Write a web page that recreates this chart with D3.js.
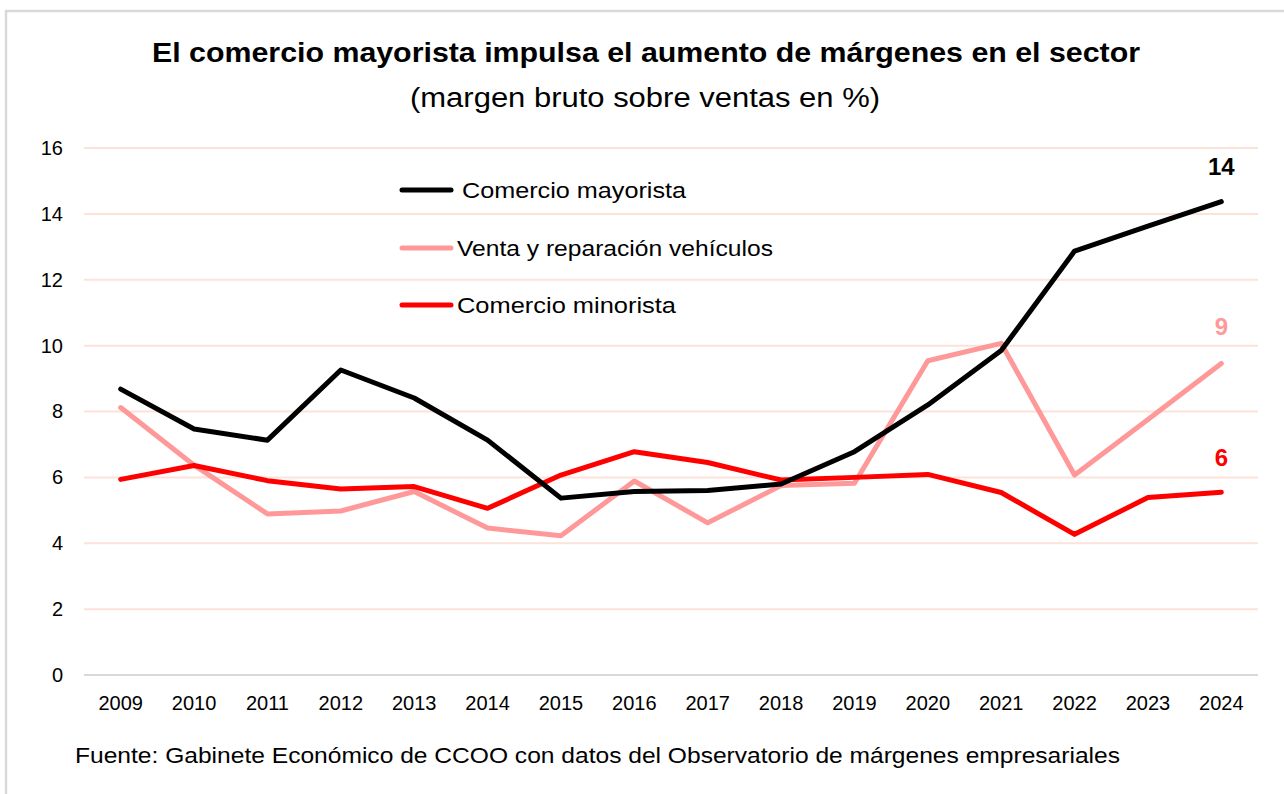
<!DOCTYPE html>
<html><head><meta charset="utf-8">
<script src="https://cdn.jsdelivr.net/npm/d3@7"></script>
<style>body{margin:0;background:#fff;} svg{display:block;}</style>
</head><body>
<script>
const years = ["2009","2010","2011","2012","2013","2014","2015","2016","2017","2018","2019","2020","2021","2022","2023","2024"];
const mayorista = [8.68,7.47,7.13,9.26,8.41,7.13,5.37,5.57,5.6,5.8,6.78,8.2,9.85,12.87,13.63,14.37];
const vehiculos = [8.12,6.37,4.89,4.98,5.57,4.46,4.23,5.89,4.62,5.75,5.82,9.54,10.07,6.07,7.76,9.46];
const minorista = [5.94,6.36,5.9,5.65,5.72,5.06,6.07,6.78,6.45,5.92,6.0,6.09,5.54,4.27,5.39,5.55];
const yTicks = [0,2,4,6,8,10,12,14,16];
const seriesNames = ["Comercio mayorista","Venta y reparación vehículos","Comercio minorista"];
const endLabels = ["14","9","6"];
const colors = ["#000000","#ff9999","#ff0000"];

const W=1284,H=794;
const svg=d3.select("body").append("svg").attr("width",W).attr("height",H);
const font="'Liberation Sans', Arial, sans-serif";

// border
svg.append("path").attr("d",`M6,${H} L6,11 L${W},11`).attr("fill","none").attr("stroke","#d9d9d9").attr("stroke-width",2.5);

// title
svg.append("text").attr("x",152).attr("y",62)
  .attr("font-family",font).attr("font-weight","bold").attr("font-size",27).attr("fill","#000")
  .attr("textLength",988).attr("lengthAdjust","spacingAndGlyphs")
  .text("El comercio mayorista impulsa el aumento de márgenes en el sector");
svg.append("text").attr("x",410).attr("y",107)
  .attr("font-family",font).attr("font-size",27).attr("fill","#000")
  .attr("textLength",470).attr("lengthAdjust","spacingAndGlyphs")
  .text("(margen bruto sobre ventas en %)");

const x=d3.scaleBand().domain(years).range([84,1258]);
const y=d3.scaleLinear().domain([0,16]).range([675,148]);

const g=svg.append("g");
// gridlines
g.selectAll("line.grid").data(yTicks).join("line")
  .attr("x1",84).attr("x2",1258).attr("y1",d=>y(d)).attr("y2",d=>y(d))
  .attr("stroke",d=>d===0?"#d9d9d9":"#fde2da").attr("stroke-width",2);

// y axis labels
const yAxis=d3.axisLeft(y).tickValues(yTicks).tickSize(0).tickPadding(0);
const ya=svg.append("g").attr("transform","translate(63,0)").call(yAxis);
ya.select(".domain").remove();
ya.selectAll("text").attr("font-family",font).attr("font-size",20).attr("fill","#000");

// x axis labels
const xAxis=d3.axisBottom(x).tickSize(0).tickPadding(0);
const xa=svg.append("g").attr("transform","translate(0,696)").call(xAxis);
xa.select(".domain").remove();
xa.selectAll("text").attr("font-family",font).attr("font-size",20).attr("fill","#000");

const cx=d=>x(d)+x.bandwidth()/2;
const line=d3.line().x((d,i)=>cx(years[i])).y(d=>y(d));
const all=[mayorista,vehiculos,minorista];
[1,2,0].forEach(k=>{
  svg.append("path").datum(all[k]).attr("d",line).attr("fill","none")
    .attr("stroke",colors[k]).attr("stroke-width",5).attr("stroke-linejoin","round").attr("stroke-linecap","round");
});

// end labels
const labelY=[167,327,458];
endLabels.forEach((t,k)=>{
  svg.append("text").attr("x",cx(years[years.length-1])).attr("y",labelY[k]).attr("dy","0.35em")
    .attr("text-anchor","middle").attr("font-family",font).attr("font-weight","bold").attr("font-size",24)
    .attr("fill",colors[k]).text(t);
});

// legend
const legY=[190,248,305];
const legTX=[462,457,457];
const legLen=[224,316,219];
seriesNames.forEach((n,k)=>{
  svg.append("line").attr("x1",402).attr("x2",451).attr("y1",legY[k]).attr("y2",legY[k])
    .attr("stroke",colors[k]).attr("stroke-width",5).attr("stroke-linecap","round");
  svg.append("text").attr("x",legTX[k]).attr("y",legY[k]).attr("dy","0.35em")
    .attr("font-family",font).attr("font-size",22).attr("fill","#000")
    .attr("textLength",legLen[k]).attr("lengthAdjust","spacingAndGlyphs").text(n);
});

// source
svg.append("text").attr("x",75).attr("y",763).attr("font-family",font).attr("font-size",22).attr("fill","#000")
  .attr("textLength",1045).attr("lengthAdjust","spacingAndGlyphs")
  .text("Fuente: Gabinete Económico de CCOO con datos del Observatorio de márgenes empresariales");
</script>
</body></html>
